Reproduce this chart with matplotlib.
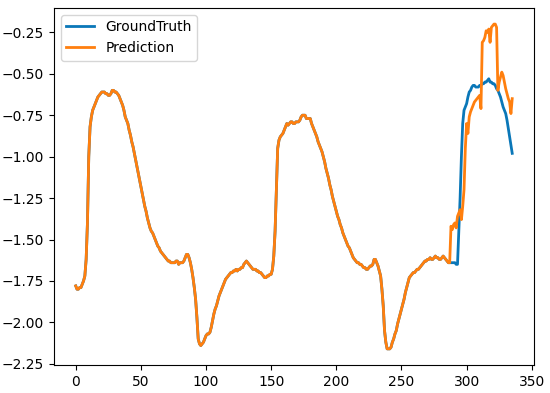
import matplotlib
matplotlib.use("Agg")
import matplotlib.pyplot as plt

# shared part of both series (steps 0..287)
shared = [
    -1.78, -1.80, -1.80, -1.79, -1.79, -1.77, -1.75, -1.72, -1.62, -1.40,
    -1.00, -0.82, -0.76, -0.72, -0.70, -0.68, -0.66, -0.64, -0.63, -0.62,
    -0.61, -0.61, -0.61, -0.62, -0.62, -0.63, -0.63, -0.62, -0.60, -0.60,
    -0.61, -0.61, -0.62, -0.63, -0.65, -0.67, -0.69, -0.72, -0.76, -0.78,
    -0.80, -0.84, -0.87, -0.91, -0.94, -0.98, -1.02, -1.06, -1.10, -1.14,
    -1.18, -1.22, -1.26, -1.30, -1.33, -1.37, -1.40, -1.43, -1.45, -1.46,
    -1.48, -1.50, -1.52, -1.54, -1.55, -1.57, -1.58, -1.59, -1.60, -1.61,
    -1.62, -1.63, -1.63, -1.64, -1.64, -1.64, -1.64, -1.63, -1.63, -1.65,
    -1.64, -1.64, -1.64, -1.63, -1.61, -1.59, -1.59, -1.61, -1.64, -1.68,
    -1.73, -1.79, -1.86, -1.97, -2.10, -2.13, -2.14, -2.13, -2.12, -2.10,
    -2.08, -2.07, -2.07, -2.06, -2.03, -1.99, -1.95, -1.92, -1.90, -1.87,
    -1.84, -1.82, -1.80, -1.78, -1.76, -1.74, -1.73, -1.72, -1.71, -1.70,
    -1.70, -1.69, -1.69, -1.68, -1.69, -1.68, -1.68, -1.67, -1.67, -1.65,
    -1.64, -1.63, -1.64, -1.65, -1.66, -1.67, -1.68, -1.68, -1.68, -1.69,
    -1.69, -1.70, -1.70, -1.71, -1.72, -1.73, -1.73, -1.72, -1.72, -1.71,
    -1.71, -1.68, -1.60, -1.45, -1.20, -0.95, -0.90, -0.88, -0.87, -0.86,
    -0.84, -0.82, -0.80, -0.81, -0.80, -0.79, -0.79, -0.80, -0.80, -0.79,
    -0.79, -0.79, -0.78, -0.76, -0.75, -0.75, -0.75, -0.77, -0.77, -0.77,
    -0.77, -0.80, -0.82, -0.84, -0.86, -0.88, -0.91, -0.93, -0.95, -0.97,
    -1.00, -1.03, -1.07, -1.10, -1.13, -1.17, -1.20, -1.24, -1.27, -1.30,
    -1.33, -1.36, -1.38, -1.41, -1.43, -1.46, -1.48, -1.50, -1.52, -1.54,
    -1.55, -1.57, -1.59, -1.61, -1.62, -1.63, -1.64, -1.64, -1.65, -1.65,
    -1.66, -1.67, -1.67, -1.68, -1.68, -1.67, -1.66, -1.66, -1.65, -1.62,
    -1.62, -1.64, -1.66, -1.69, -1.72, -1.80, -1.90, -2.05, -2.12, -2.16,
    -2.16, -2.16, -2.15, -2.12, -2.10, -2.07, -2.05, -2.01, -1.98, -1.95,
    -1.92, -1.89, -1.86, -1.82, -1.79, -1.76, -1.73, -1.72, -1.71, -1.70,
    -1.70, -1.69, -1.68, -1.68, -1.67, -1.66, -1.65, -1.64, -1.63, -1.63,
    -1.62, -1.62, -1.61, -1.62, -1.62, -1.61, -1.60, -1.61, -1.61, -1.62,
    -1.62, -1.61, -1.60, -1.61, -1.62, -1.63, -1.64, -1.64,
]

# steps 288..335
truth_tail = [
    -1.64, -1.64, -1.64, -1.64, -1.65, -1.65, -1.45, -1.25, -1.00, -0.80,
    -0.72, -0.70, -0.68, -0.64, -0.61, -0.60, -0.58, -0.57, -0.57, -0.58,
    -0.58, -0.58, -0.57, -0.57, -0.56, -0.56, -0.55, -0.55, -0.54, -0.53,
    -0.55, -0.55, -0.56, -0.56, -0.57, -0.59, -0.60, -0.62, -0.64, -0.67,
    -0.70, -0.72, -0.74, -0.78, -0.83, -0.88, -0.93, -0.98,
]
pred_tail = [
    -1.42, -1.44, -1.41, -1.40, -1.43, -1.36, -1.34, -1.32, -1.38, -1.30,
    -1.20, -0.95, -0.80, -0.86, -0.76, -0.73, -0.71, -0.69, -0.67, -0.66,
    -0.65, -0.64, -0.63, -0.71, -0.31, -0.30, -0.28, -0.24, -0.25, -0.23,
    -0.31, -0.22, -0.21, -0.20, -0.20, -0.22, -0.60, -0.55, -0.52, -0.49,
    -0.51, -0.55, -0.59, -0.62, -0.65, -0.67, -0.74, -0.65,
]

ground_truth = shared + truth_tail
prediction = shared + pred_tail

fig = plt.figure(figsize=(5.5, 3.93), dpi=100)
ax = fig.add_axes([0.098, 0.071, 0.873, 0.909])
ax.plot(ground_truth, color='#0a77b8', linewidth=2, label='GroundTruth')
ax.plot(prediction, color='#ff7f0e', linewidth=2, label='Prediction')
ax.set_xticks([0, 50, 100, 150, 200, 250, 300, 350])
ax.set_yticks([-0.25, -0.5, -0.75, -1.0, -1.25, -1.5, -1.75, -2.0, -2.25])
ax.legend(loc='upper left')

fig.savefig('out.png', dpi=100)
